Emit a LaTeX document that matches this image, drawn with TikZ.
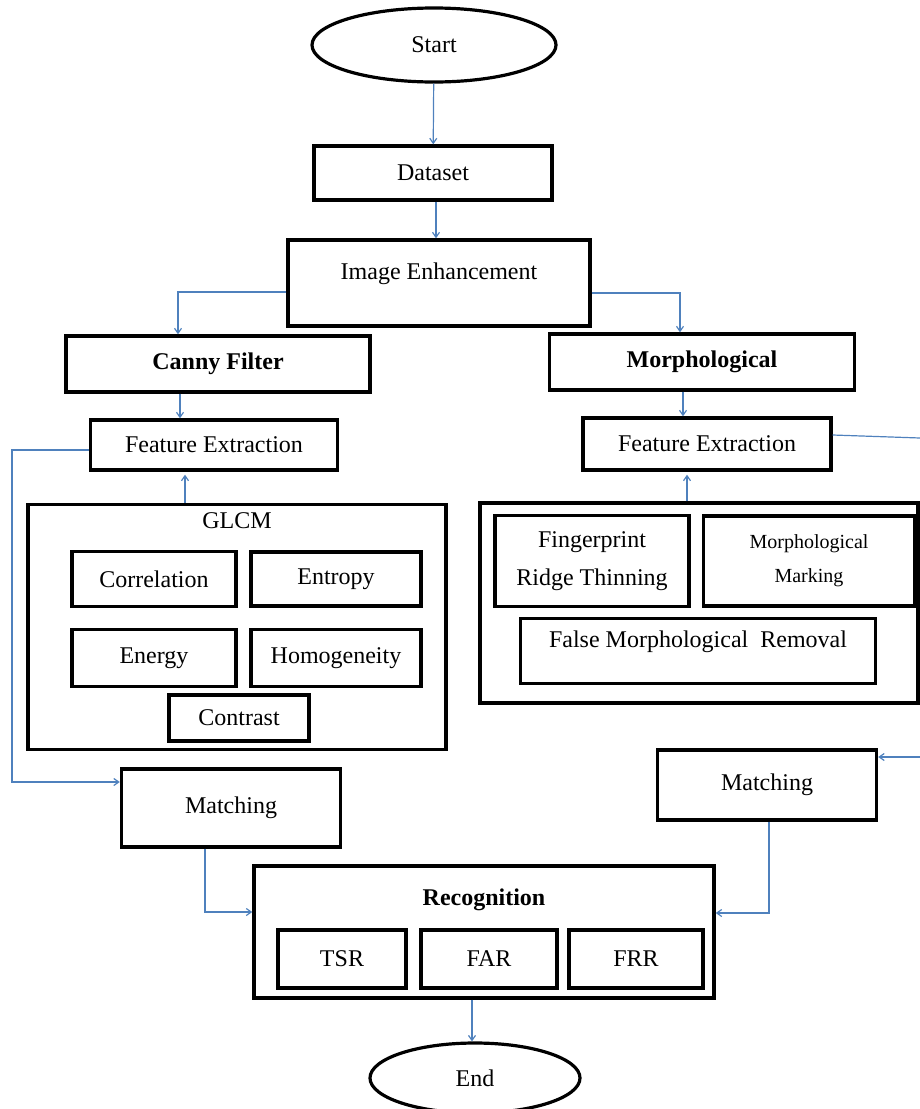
\documentclass[tikz,border=0pt]{standalone}
\usepackage{fontspec}
\setmainfont{Liberation Serif}
\usetikzlibrary{arrows.meta,shapes.geometric}
\definecolor{flowblue}{HTML}{4F81BD}

\begin{document}
\begin{tikzpicture}[x=1pt,y=-1pt,>={Straight Barb[length=5pt,width=7pt]},font=\fontsize{24}{28}\selectfont,
  flowbox/.style={draw,line width=3.4pt,inner sep=2pt},
  oval/.style={draw,ellipse,line width=3.2pt,inner sep=0pt},
  link/.style={->,draw=flowblue,line width=1.2pt}]
\useasboundingbox (0,0) rectangle (920,1109);
\node[oval,minimum width=244,minimum height=74] (start) at (434,45) {Start};
\node[flowbox,minimum width=238,minimum height=54] (dataset) at (433,173) {Dataset};
\node[flowbox,minimum width=302,minimum height=86] (enhance) at (439,283) {};
\node at ([yshift=-35pt]enhance.north) (enhancetext) {Image Enhancement};
\node[flowbox,minimum width=304,minimum height=56,font=\fontsize{24}{28}\selectfont\bfseries] (canny) at (218,364) {Canny Filter};
\node[flowbox,minimum width=305,minimum height=56,font=\fontsize{24}{28}\selectfont\bfseries] (morph) at (702,362) {Morphological};
\node[flowbox,minimum width=247,minimum height=50] (feL) at (214,445) {Feature Extraction};
\node[flowbox,minimum width=248,minimum height=52] (feR) at (707,444) {Feature Extraction};
% GLCM side
\node[flowbox,minimum width=418,minimum height=245] (glcm) at (237,627) {};
\node at ([yshift=-18pt]glcm.north) (glcmtext) {GLCM};
\node[flowbox,minimum width=164,minimum height=55] (corr) at (154,579) {Correlation};
\node[flowbox,minimum width=170,minimum height=54] (entropy) at (336,579) {Entropy};
\node[flowbox,minimum width=164,minimum height=57] (energy) at (154,658) {Energy};
\node[flowbox,minimum width=170,minimum height=57] (homog) at (336,658) {Homogeneity};
\node[flowbox,minimum width=140,minimum height=46] (contrast) at (239,718) {Contrast};
% morphological side
\node[flowbox,minimum width=438,minimum height=200] (minutiae) at (699,603) {};
\node[flowbox,minimum width=194,minimum height=91,align=center] (ridge) at (592,561) {Fingerprint\\[10pt]Ridge Thinning};
\node[flowbox,minimum width=211,minimum height=90,align=center,font=\fontsize{20}{23}\selectfont] (marking) at (809,561) {Morphological\\[11pt]Marking};
\node[flowbox,minimum width=355,minimum height=65] (removal) at (698,651) {};
\node at ([yshift=-25pt]removal.north) (removaltext) {False Morphological\ \ Removal};
% matching and recognition
\node[flowbox,minimum width=219,minimum height=78] (matchL) at (231,808) {Matching};
\node[flowbox,minimum width=219,minimum height=70] (matchR) at (767,785) {Matching};
\node[flowbox,minimum width=460,minimum height=132] (recog) at (484,932) {};
\node[font=\fontsize{24}{28}\selectfont\bfseries] at ([yshift=-36pt]recog.north) (recogtext) {Recognition};
\node[flowbox,minimum width=128,minimum height=58] (tsr) at (342,959) {TSR};
\node[flowbox,minimum width=136,minimum height=58] (far) at (489,959) {FAR};
\node[flowbox,minimum width=134,minimum height=58] (frr) at (636,959) {FRR};
\node[oval,minimum width=210,minimum height=70] (end) at (475,1078) {End};
\coordinate (loopL) at (12,450);
\coordinate (edgeA) at (920,438);
\coordinate (edgeB) at (920,757);
\draw[link] (start) -- (dataset);
\draw[link] ([xshift=3pt]dataset.south) -- ([xshift=3pt]dataset.south |- enhance.north);
\draw[link] ([yshift=-9pt]enhance.west) -| ([xshift=-40pt]canny.north);
\draw[link] ([yshift=-10pt]enhance.east) -| ([xshift=-22pt]morph.north);
\draw[link] ([xshift=-38pt]canny.south) -- ([xshift=-38pt]canny.south |- feL.north);
\draw[link] ([xshift=-19pt]morph.south) -- ([xshift=-19pt]morph.south |- feR.north);
\draw[link] ([xshift=-52pt]glcm.north) -- ([xshift=-52pt,yshift=-3pt]glcm.north |- feL.south);
\draw[link] ([xshift=-12pt]minutiae.north) -- ([xshift=-12pt,yshift=-3pt]minutiae.north |- feR.south);
\draw[link] ([yshift=-5pt]feL.west) -- (loopL) |- ([yshift=26pt]matchL.west);
\draw[draw=flowblue,line width=1.2pt] ([yshift=9pt]feR.east) -- (edgeA);
\draw[link] (edgeB) -- ([yshift=28pt]matchR.east);
\draw[link] ([xshift=-26pt]matchL.south) |- ([yshift=20pt]recog.west);
\draw[link] ([xshift=2pt]matchR.south) |- ([yshift=19pt]recog.east);
\draw[link] ([xshift=-12pt]recog.south) -- ([xshift=-12pt]recog.south |- end.north);
\end{tikzpicture}
\end{document}
